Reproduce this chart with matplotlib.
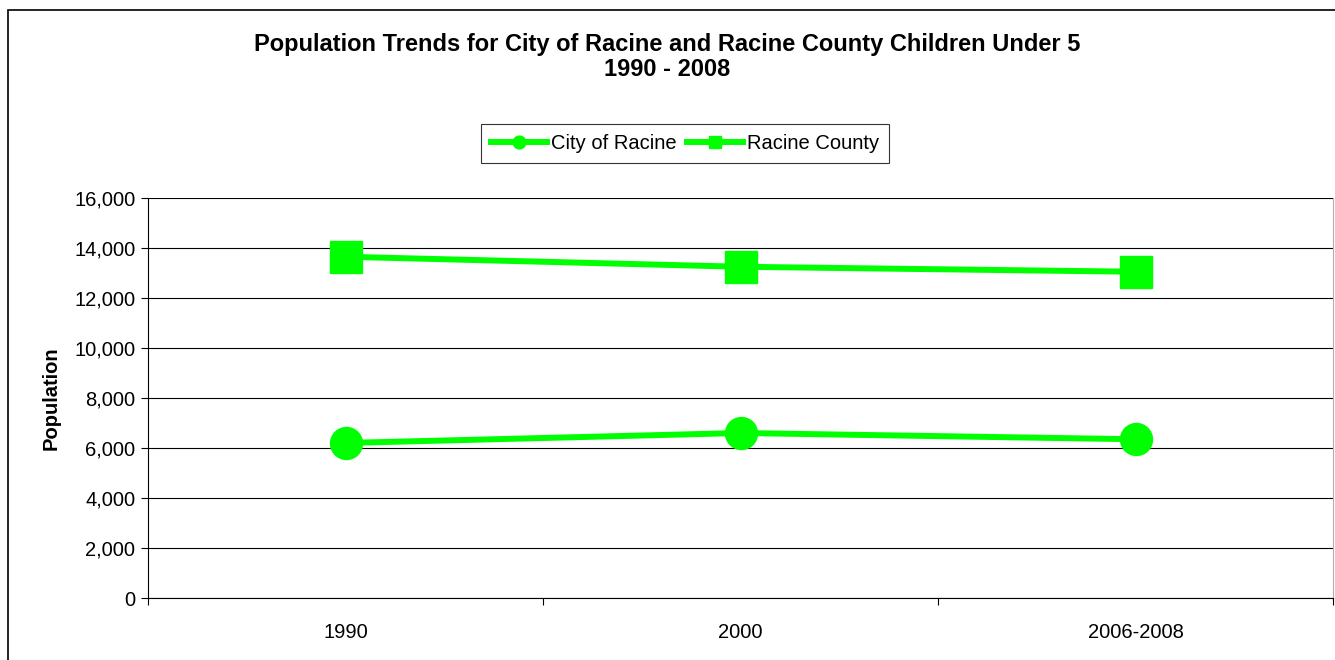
import matplotlib.pyplot as plt
from matplotlib.ticker import FuncFormatter, FixedLocator
from matplotlib.patches import Rectangle

plt.rcParams['font.family'] = ['Liberation Sans', 'DejaVu Sans']

years = ["1990", "2000", "2006-2008"]
city = [6200, 6600, 6350]
county = [13650, 13250, 13050]

green = "#00FF00"

fig = plt.figure(figsize=(13.35, 6.6), dpi=100)
ax = fig.add_axes([148 / 1335, 62 / 660, 1185 / 1335, 400 / 660])

x = range(len(years))
ax.plot(x, city, color=green, lw=4.3, marker='o', ms=23, label="City of Racine")
ax.plot(x, county, color=green, lw=4.3, marker='s', ms=23, label="Racine County")

ax.set_xlim(-0.5, len(years) - 0.5)
ax.set_ylim(0, 16000)
ax.set_yticks(range(0, 16001, 2000))
ax.yaxis.set_major_formatter(FuncFormatter(lambda v, p: f"{int(v):,}"))
ax.grid(axis='y', color='black', lw=0.8)
ax.set_axisbelow(True)

ax.xaxis.set_major_locator(FixedLocator([-0.5, 0.5, 1.5, 2.5]))
ax.xaxis.set_major_formatter(FuncFormatter(lambda v, p: ""))
ax.xaxis.set_minor_locator(FixedLocator(list(x)))
ax.set_xticklabels(years, minor=True)
ax.tick_params(axis='x', which='major', length=5, direction='out', color='black')
ax.tick_params(axis='x', which='minor', length=0, pad=18, labelsize=14.5)
ax.tick_params(axis='y', length=5, direction='out', labelsize=14.5, pad=4)

ax.spines['top'].set_visible(False)
ax.spines['right'].set_color('#b0b0b0')
for s in ['left', 'bottom']:
    ax.spines[s].set_color('black')

ax.set_ylabel("Population", fontweight='bold', fontsize=14.5, labelpad=10)

fig.text(0.5, 1 - 44 / 660, "Population Trends for City of Racine and Racine County Children Under 5",
         ha='center', va='center', fontsize=17, fontweight='bold')
fig.text(0.5, 1 - 70 / 660, "1990 - 2008", ha='center', va='center', fontsize=17, fontweight='bold')

leg = fig.legend(loc='center', bbox_to_anchor=(685 / 1335, 1 - 143.5 / 660), ncol=2, frameon=True,
                 fancybox=False, edgecolor='black', fontsize=14.5, markerscale=0.4,
                 handlelength=2.8, columnspacing=0.5, handletextpad=0.2, borderpad=0.5)
leg.get_frame().set_linewidth(0.8)

# chart border, cropped on the right and bottom like the original
fig.patches.append(Rectangle((8 / 1335, -0.05), 1.1, 1 - 10 / 660 + 0.05, transform=fig.transFigure,
                             fill=False, edgecolor='black', lw=1.2))

fig.savefig("out.png", dpi=100)
